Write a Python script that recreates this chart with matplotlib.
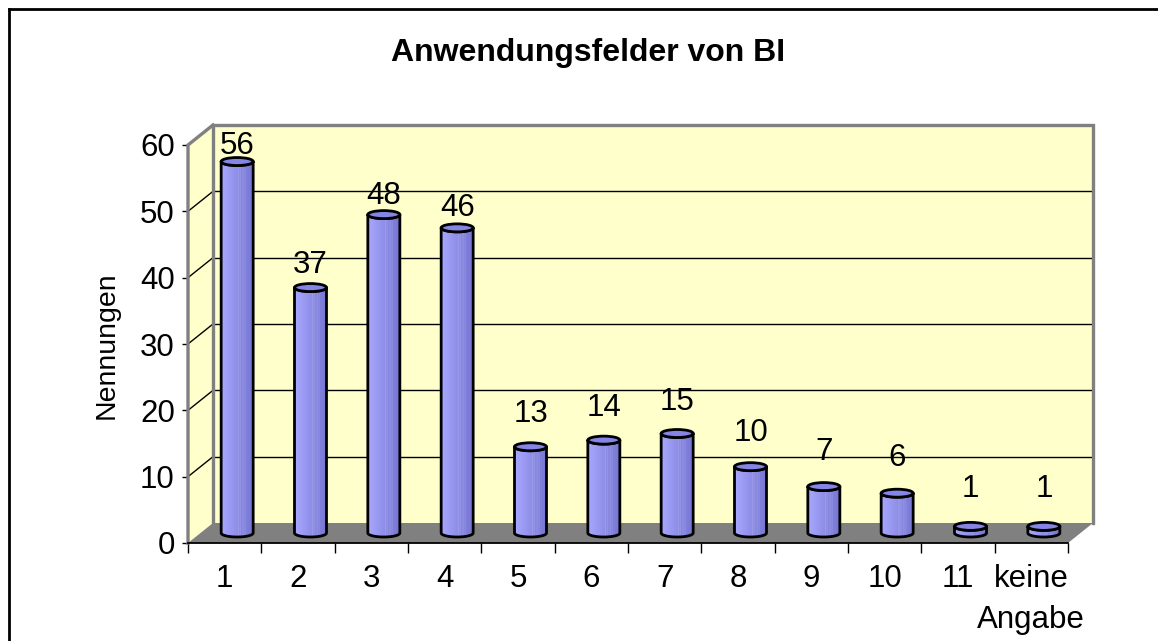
import numpy as np
import matplotlib
matplotlib.use("Agg")
import matplotlib.pyplot as plt
from matplotlib.patches import Polygon, Ellipse
from matplotlib.lines import Line2D

# ---- data ----
categories = ["1", "2", "3", "4", "5", "6", "7", "8", "9", "10", "11", "keine\nAngabe"]
values = [56, 37, 48, 46, 13, 14, 15, 10, 7, 6, 1, 1]
y_ticks = [0, 10, 20, 30, 40, 50, 60]
title = "Anwendungsfelder von BI"
y_label = "Nennungen"

plt.rcParams['font.family'] = ['Liberation Sans', 'DejaVu Sans']

W_PX, H_PX = 1158, 641
fig = plt.figure(figsize=(W_PX / 100, H_PX / 100), dpi=100)
fig.patch.set_facecolor("white")

# front plane of the plot in pixels
x0p, x1p, y0p, y1p = 188, 1068, 543, 145
ax = fig.add_axes([x0p / W_PX, 1 - y0p / H_PX, (x1p - x0p) / W_PX, (y0p - y1p) / H_PX])
n = len(categories)
ymax = y_ticks[-1]
ax.set_xlim(0, n)
ax.set_ylim(0, ymax)
ax.patch.set_visible(False)
for s in ax.spines.values():
    s.set_visible(False)

px_x = (x1p - x0p) / n          # pixels per x unit
px_y = (y0p - y1p) / ymax       # pixels per y unit
DX = 25 / px_x                  # depth offset
DY = 20 / px_y

wall = "#FFFFCC"
edge_gray = "#808080"

# left wall
ax.add_patch(Polygon([(0, 0), (0, ymax), (DX, ymax + DY), (DX, DY)], closed=True,
                     facecolor=wall, edgecolor="none", zorder=1, clip_on=False))
# back wall
ax.add_patch(Polygon([(DX, DY), (DX, ymax + DY), (n + DX, ymax + DY), (n + DX, DY)], closed=True,
                     facecolor=wall, edgecolor="none", zorder=1, clip_on=False))
# floor
ax.add_patch(Polygon([(0, 0), (n, 0), (n + DX, DY), (DX, DY)], closed=True,
                     facecolor="#808080", edgecolor="none", zorder=2, clip_on=False))

# gridlines on back wall + diagonals on left wall
for v in y_ticks[1:-1]:
    ax.add_line(Line2D([DX, n + DX], [v + DY, v + DY], color="black", lw=1.0, zorder=1.5, clip_on=False))
    ax.add_line(Line2D([0, DX], [v, v + DY], color="black", lw=1.0, zorder=1.5, clip_on=False))

# wall edges (gray)
ax.add_line(Line2D([DX, DX, n + DX, n + DX], [DY, ymax + DY, ymax + DY, DY],
                   color=edge_gray, lw=2.4, zorder=1.6, clip_on=False, solid_joinstyle="miter"))
ax.add_line(Line2D([0, 0, DX], [0, ymax, ymax + DY], color=edge_gray, lw=2.4, zorder=1.6,
                   clip_on=False, solid_joinstyle="miter"))
# bottom axis line
ax.add_line(Line2D([0, n], [0, 0], color="black", lw=1.3, zorder=3, clip_on=False))

# ---- cylinders ----
cw = 32 / px_x        # cylinder width in x units
eh = 8 / px_y         # ellipse height in y units
base = DY / 2
light = np.array([168, 168, 255]) / 255
dark = np.array([118, 118, 210]) / 255
ncol = 80
t = np.linspace(0, 1, ncol)
grad = light[None, :] * (1 - t[:, None]) + dark[None, :] * t[:, None]
for pos, a in [(0.55, 0.35), (0.62, 0.25), (0.70, 0.3), (0.76, 0.2)]:
    k = int(pos * (ncol - 1))
    grad[k] = grad[k] + (1 - grad[k]) * a
grad_img = np.tile(grad[None, :, :], (2, 1, 1))

theta = np.linspace(np.pi, 2 * np.pi, 40)
for i, v in enumerate(values):
    cx = i + 0.5 + DX / 2
    top = v + base
    xs_top = cx + (cw / 2) * np.cos(theta)
    ys_top = top + (eh / 2) * np.sin(theta)
    xs_bot = xs_top[::-1]
    ys_bot = base + (eh / 2) * np.sin(theta[::-1])
    pts = np.concatenate([np.column_stack([xs_top, ys_top]),
                          np.column_stack([xs_bot, ys_bot])])
    body = Polygon(pts, closed=True, facecolor="none", edgecolor="black", lw=2.0, zorder=5,
                   clip_on=False, joinstyle="round")
    ax.add_patch(body)
    im = ax.imshow(grad_img, extent=(cx - cw / 2, cx + cw / 2, base - eh, top + eh),
                   aspect="auto", zorder=4, interpolation="bilinear")
    clip = Polygon(pts, closed=True, transform=ax.transData)
    im.set_clip_path(clip)
    ax.add_patch(Ellipse((cx, top), cw, eh, facecolor=(0.52, 0.52, 0.9), edgecolor="black",
                         lw=2.0, zorder=6, clip_on=False))
    # value label
    ax.text(cx, 0.94 * v + 7.2, str(v), ha="center", va="center", fontsize=22.5, zorder=7)

ax.set_xlim(0, n)
ax.set_ylim(0, ymax)

# ticks
ax.set_xticks(np.arange(0, n + 1))
ax.set_xticklabels([])
ax.set_xticks(np.arange(n) + 0.5, minor=True)
ax.set_xticklabels(categories, minor=True, fontsize=22.5)
ax.tick_params(axis="x", which="major", length=7, width=1, color="black", direction="out")
ax.tick_params(axis="x", which="minor", length=0, pad=15)
for lab in ax.get_xticklabels(minor=True):
    lab.set_linespacing(1.5)
ax.set_yticks(y_ticks)
ax.set_yticklabels([str(v) for v in y_ticks], fontsize=22.5)
ax.tick_params(axis="y", length=4.5, width=1, color="black", direction="out", pad=5)

# texts
fig.text(588 / W_PX, 1 - 61 / H_PX, title, ha="center", va="baseline", fontsize=23, fontweight="bold")
fig.text(107 / W_PX, 1 - 345 / H_PX, y_label, ha="center", va="center", rotation=90, fontsize=20.5)

# outer border (top and left visible)
fig.add_artist(Line2D([9 / W_PX, 1.0], [1 - 9 / H_PX, 1 - 9 / H_PX], transform=fig.transFigure,
                      color="black", lw=2))
fig.add_artist(Line2D([9 / W_PX, 9 / W_PX], [0, 1 - 9 / H_PX], transform=fig.transFigure,
                      color="black", lw=2))

fig.savefig("out.png", dpi=100)
